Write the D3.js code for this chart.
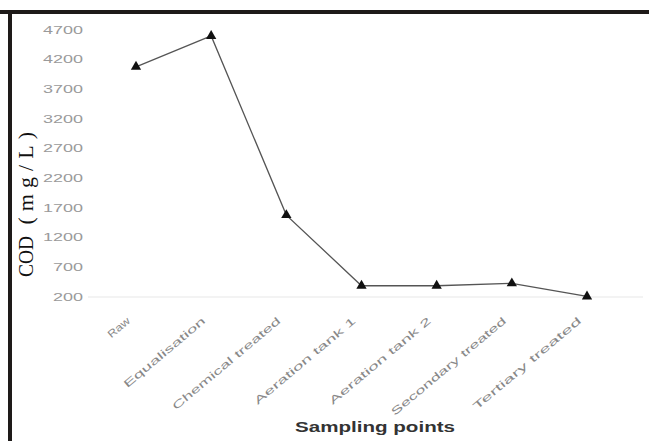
<!DOCTYPE html>
<html>
<head>
<meta charset="utf-8">
<script src="https://cdn.jsdelivr.net/npm/d3@7"></script>
<style>
  html, body { margin: 0; padding: 0; background: #fff; }
  svg { display: block; }
</style>
</head>
<body>
<svg id="chart" width="649" height="441"></svg>
<script>
// COD along the treatment train
const categories = ["Raw", "Equalisation", "Chemical treated", "Aeration tank 1",
                    "Aeration tank 2", "Secondary treated", "Tertiary treated"];
const codValues = [4080, 4600, 1580, 390, 390, 430, 210];
const yTicks = [200, 700, 1200, 1700, 2200, 2700, 3200, 3700, 4200, 4700];

const svg = d3.select("#chart");

const x = d3.scalePoint().domain(categories).range([136, 587]);
const y = d3.scaleLinear().domain([200, 4700]).range([297, 30]);

// frame: heavy top rule and left rule
svg.append("rect").attr("x", 0).attr("y", 10).attr("width", 649).attr("height", 4).attr("fill", "#1e1a19");
svg.append("rect").attr("x", 8).attr("y", 10).attr("width", 4).attr("height", 431).attr("fill", "#1e1a19");

// faint baseline at the lowest tick
svg.append("line")
  .attr("x1", 88).attr("x2", 643)
  .attr("y1", y(200)).attr("y2", y(200))
  .attr("stroke", "#e8e8e8").attr("stroke-width", 1.2);

// y axis labels
const yAxis = d3.axisLeft(y).tickValues(yTicks).tickSize(0).tickPadding(0)
  .tickFormat(d3.format("d"));
const gy = svg.append("g").attr("transform", "translate(83,0)").call(yAxis);
gy.select(".domain").remove();
gy.selectAll("text")
  .attr("fill", "#9a9a9a")
  .style("font-family", "Arial, 'Liberation Sans', sans-serif")
  .style("font-size", "10px")
  .attr("textLength", d => String(d).length * 10)
  .attr("lengthAdjust", "spacingAndGlyphs");

// x axis labels, slanted
const xAxis = d3.axisBottom(x).tickSize(0).tickPadding(0);
const gx = svg.append("g").call(xAxis);
gx.select(".domain").remove();
gx.selectAll(".tick").attr("transform", d => `translate(${x(d) - 5},322)`);
gx.selectAll("text")
  .attr("y", 0).attr("dy", 0).attr("x", 0)
  .attr("text-anchor", "end")
  .attr("transform", "rotate(-40)")
  .attr("fill", "#888")
  .style("font-family", "Arial, 'Liberation Sans', sans-serif")
  .style("font-size", "10.5px")
  .attr("textLength", d => d.length * 8.6)
  .attr("lengthAdjust", "spacingAndGlyphs");

// data line
const line = d3.line().x((d, i) => x(categories[i])).y(d => y(d));
svg.append("path")
  .datum(codValues)
  .attr("d", line)
  .attr("fill", "none")
  .attr("stroke", "#555")
  .attr("stroke-width", 1.3);

// triangle markers
svg.selectAll(".marker")
  .data(codValues)
  .join("path")
  .attr("class", "marker")
  .attr("d", d3.symbol().type(d3.symbolTriangle).size(46))
  .attr("transform", (d, i) => `translate(${x(categories[i])},${y(d)})`)
  .attr("fill", "#111");

// axis titles
const yTitle = svg.append("text")
  .attr("transform", "translate(33,277) rotate(-90)")
  .attr("text-anchor", "start")
  .attr("fill", "#111")
  .style("font-family", "'Liberation Serif', 'Times New Roman', serif")
  .style("font-size", "22px");
yTitle.append("tspan")
  .attr("textLength", 41).attr("lengthAdjust", "spacingAndGlyphs")
  .text("COD");
yTitle.append("tspan")
  .attr("textLength", 104).attr("lengthAdjust", "spacing")
  .text(" (mg/L)");

svg.append("text")
  .attr("x", 375).attr("y", 432)
  .attr("text-anchor", "middle")
  .attr("fill", "#333")
  .style("font-family", "Arial, 'Liberation Sans', sans-serif")
  .style("font-weight", "bold")
  .style("font-size", "14px")
  .attr("textLength", 160)
  .attr("lengthAdjust", "spacingAndGlyphs")
  .text("Sampling points");
</script>
</body>
</html>
